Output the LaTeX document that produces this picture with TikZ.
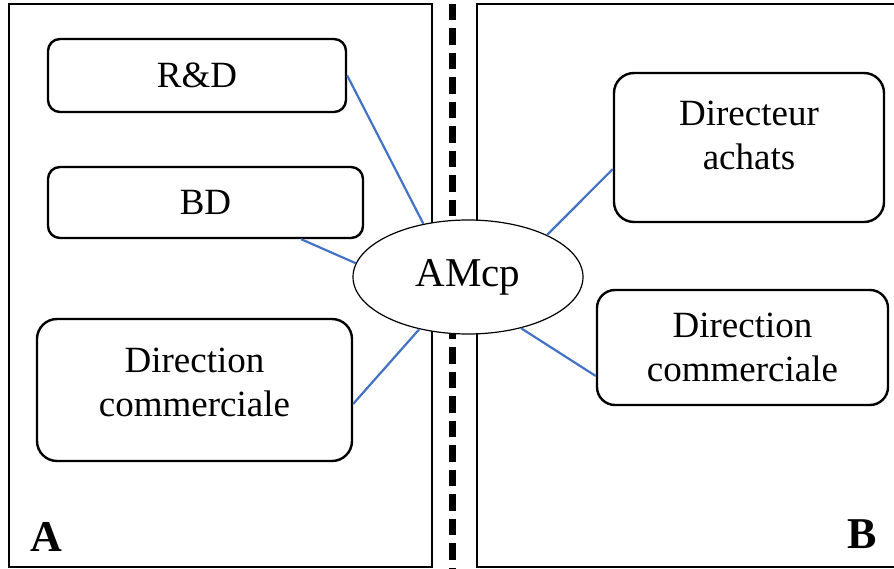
\documentclass[tikz,border=0pt]{standalone}
\usepackage{fontspec}
\setmainfont{Liberation Serif}
\usetikzlibrary{shapes.geometric}
\definecolor{LinkBlue}{RGB}{68,114,196}

\begin{document}
\begin{tikzpicture}[x=1pt,y=-1pt,every node/.style={font=\fontsize{37}{44}\selectfont}]
\tikzset{dept/.style={draw,line width=2.4pt,align=center,inner sep=0pt},
  panel/.style={draw,line width=2pt},
  link/.style={draw=LinkBlue,line width=2.2pt},
  side/.style={font=\fontsize{44}{50}\selectfont\bfseries}}
\useasboundingbox (0,0) rectangle (894,569);
% the two sides and the divider
\draw[panel] (9,4) rectangle (432,567);
\draw[panel] (477,4) rectangle (897,567);
\draw[line width=6.5pt,dash pattern=on 16.5pt off 8pt] (452.5,4)--(452.5,570);
\node[side] (sideA) at (46,537) {A};
\node[side] (sideB) at (862,534) {B};
% departments
\node[dept,rounded corners=12pt,minimum width=298,minimum height=73] (rd) at (197,75.5) {R\&D};
\node[dept,rounded corners=12pt,minimum width=315,minimum height=71] (bd) at (205.5,202.5) {BD};
\node[dept,rounded corners=20pt,minimum width=315,minimum height=142,text depth=16pt] (dcA) at (194.5,390) {Direction\\commerciale};
\node[dept,rounded corners=20pt,minimum width=270,minimum height=149,text depth=24pt] (achats) at (749,147.5) {Directeur\\achats};
\node[dept,rounded corners=18pt,minimum width=291,minimum height=115] (dcB) at (742.5,347.5) {Direction\\commerciale};
\node[ellipse,draw,fill=white,line width=1.2pt,minimum width=230,minimum height=114,inner sep=0pt,
  font=\fontsize{41}{48}\selectfont] (amcp) at (468,277) {AMcp};
% links
\draw[link] (rd.east)--(amcp.130);
\draw[link] (bd.-21)--(amcp.173);
\draw[link] (dcA.-5)--(amcp.227);
\draw[link] (amcp.28)--(achats.189);
\draw[link] (amcp.-44)--(dcB.191);
\end{tikzpicture}
\end{document}
